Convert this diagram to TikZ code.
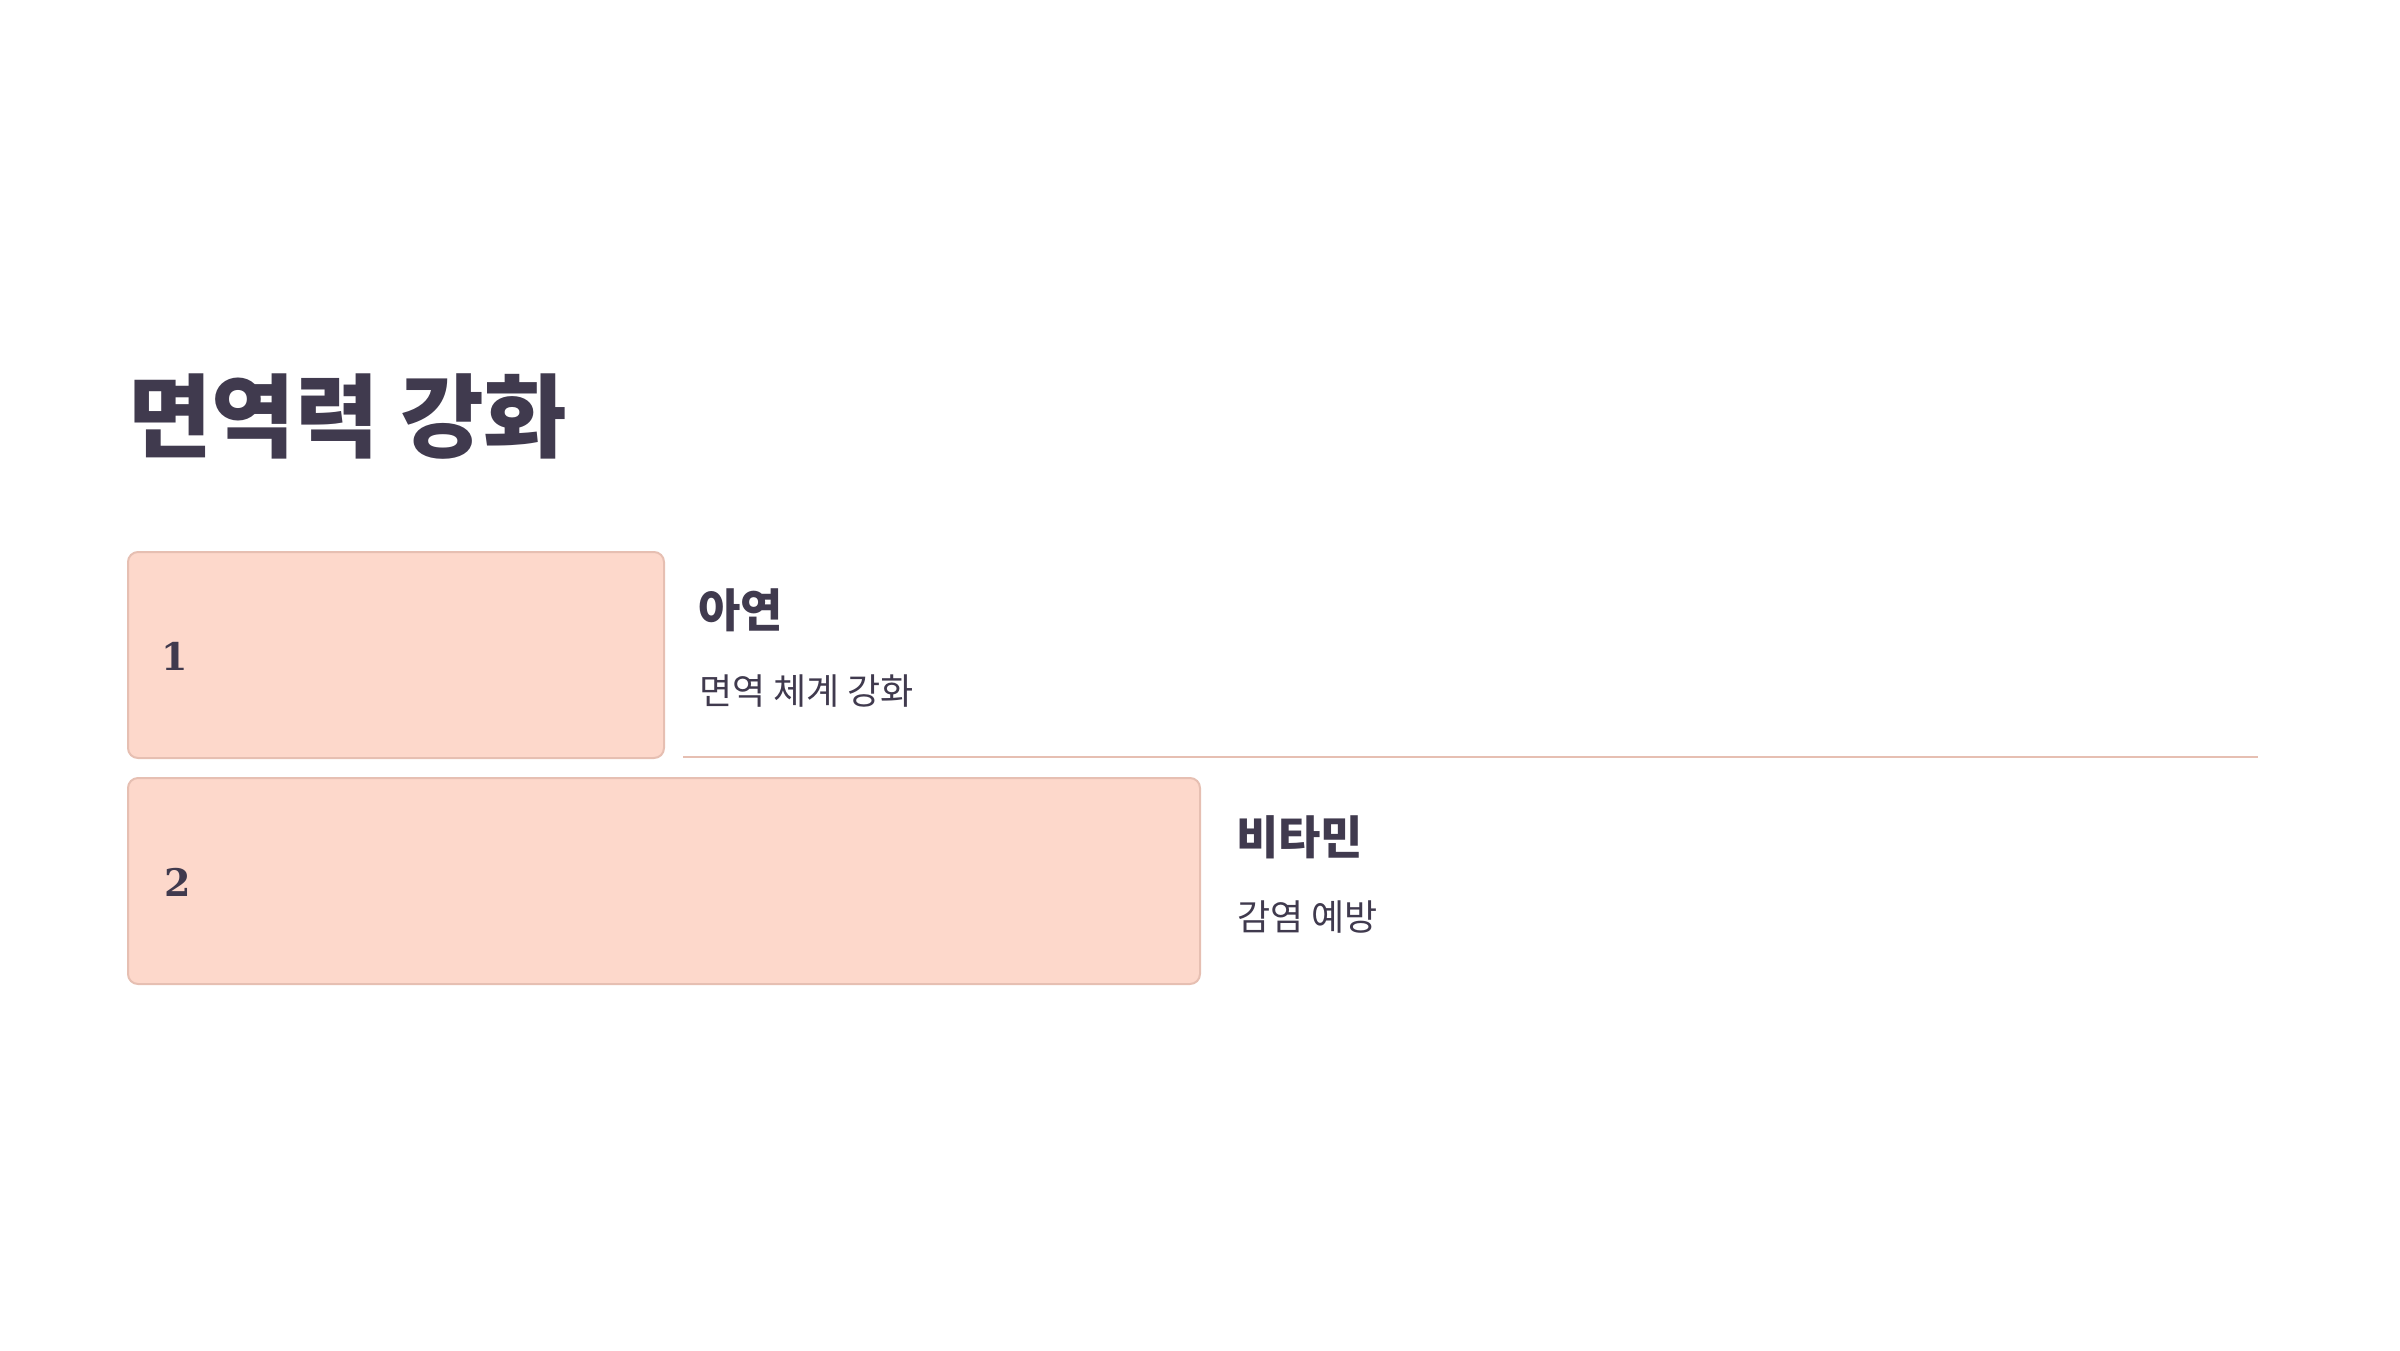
\documentclass[tikz,border=0pt]{standalone}
\usepackage{fontspec}
\setmainfont{Noto Sans CJK KR}
\newfontfamily\numfont{DejaVu Serif}
\definecolor{ink}{HTML}{403A4E}
\definecolor{boxfill}{HTML}{FDD8CB}
\definecolor{boxline}{HTML}{E6BFB2}
\tikzset{
  barbox/.style={draw=boxline, line width=2pt, fill=boxfill, rounded corners=10pt, anchor=north west, inner sep=0pt},
  numlabel/.style={anchor=base west, inner sep=0pt, text=ink, font=\numfont\bfseries\fontsize{38}{40}\selectfont},
  headlabel/.style={anchor=base west, inner sep=0pt, text=ink, font=\bfseries\fontsize{46}{50}\selectfont},
  sublabel/.style={anchor=base west, inner sep=0pt, text=ink, font=\fontsize{36}{40}\selectfont},
}
\begin{document}
\begin{tikzpicture}[x=1pt,y=-1pt]
\useasboundingbox (0,0) rectangle (2400,1350);
\node[anchor=base west, inner sep=0pt, text=ink, font=\bfseries\fontsize{91}{110}\selectfont] (title) at (128,450) {면역력 강화};
\node[barbox, minimum width=536pt, minimum height=206pt] (b1) at (127,551) {};
\node[barbox, minimum width=1072pt, minimum height=206pt] (b2) at (127,777) {};
\node[numlabel] (n1) at (161,670) {1};
\node[numlabel] (n2) at (164,896) {2};
\node[headlabel] (h1) at (698,627) {아연};
\node[sublabel] (s1) at (699,704) {면역 체계 강화};
\node[headlabel] (h2) at (1236,854) {비타민};
\node[sublabel] (s2) at (1237,930) {감염 예방};
\coordinate (l1) at (683,757);
\coordinate (l2) at (2258,757);
\draw[boxline, line width=2pt] (l1) -- (l2);
\end{tikzpicture}
\end{document}
